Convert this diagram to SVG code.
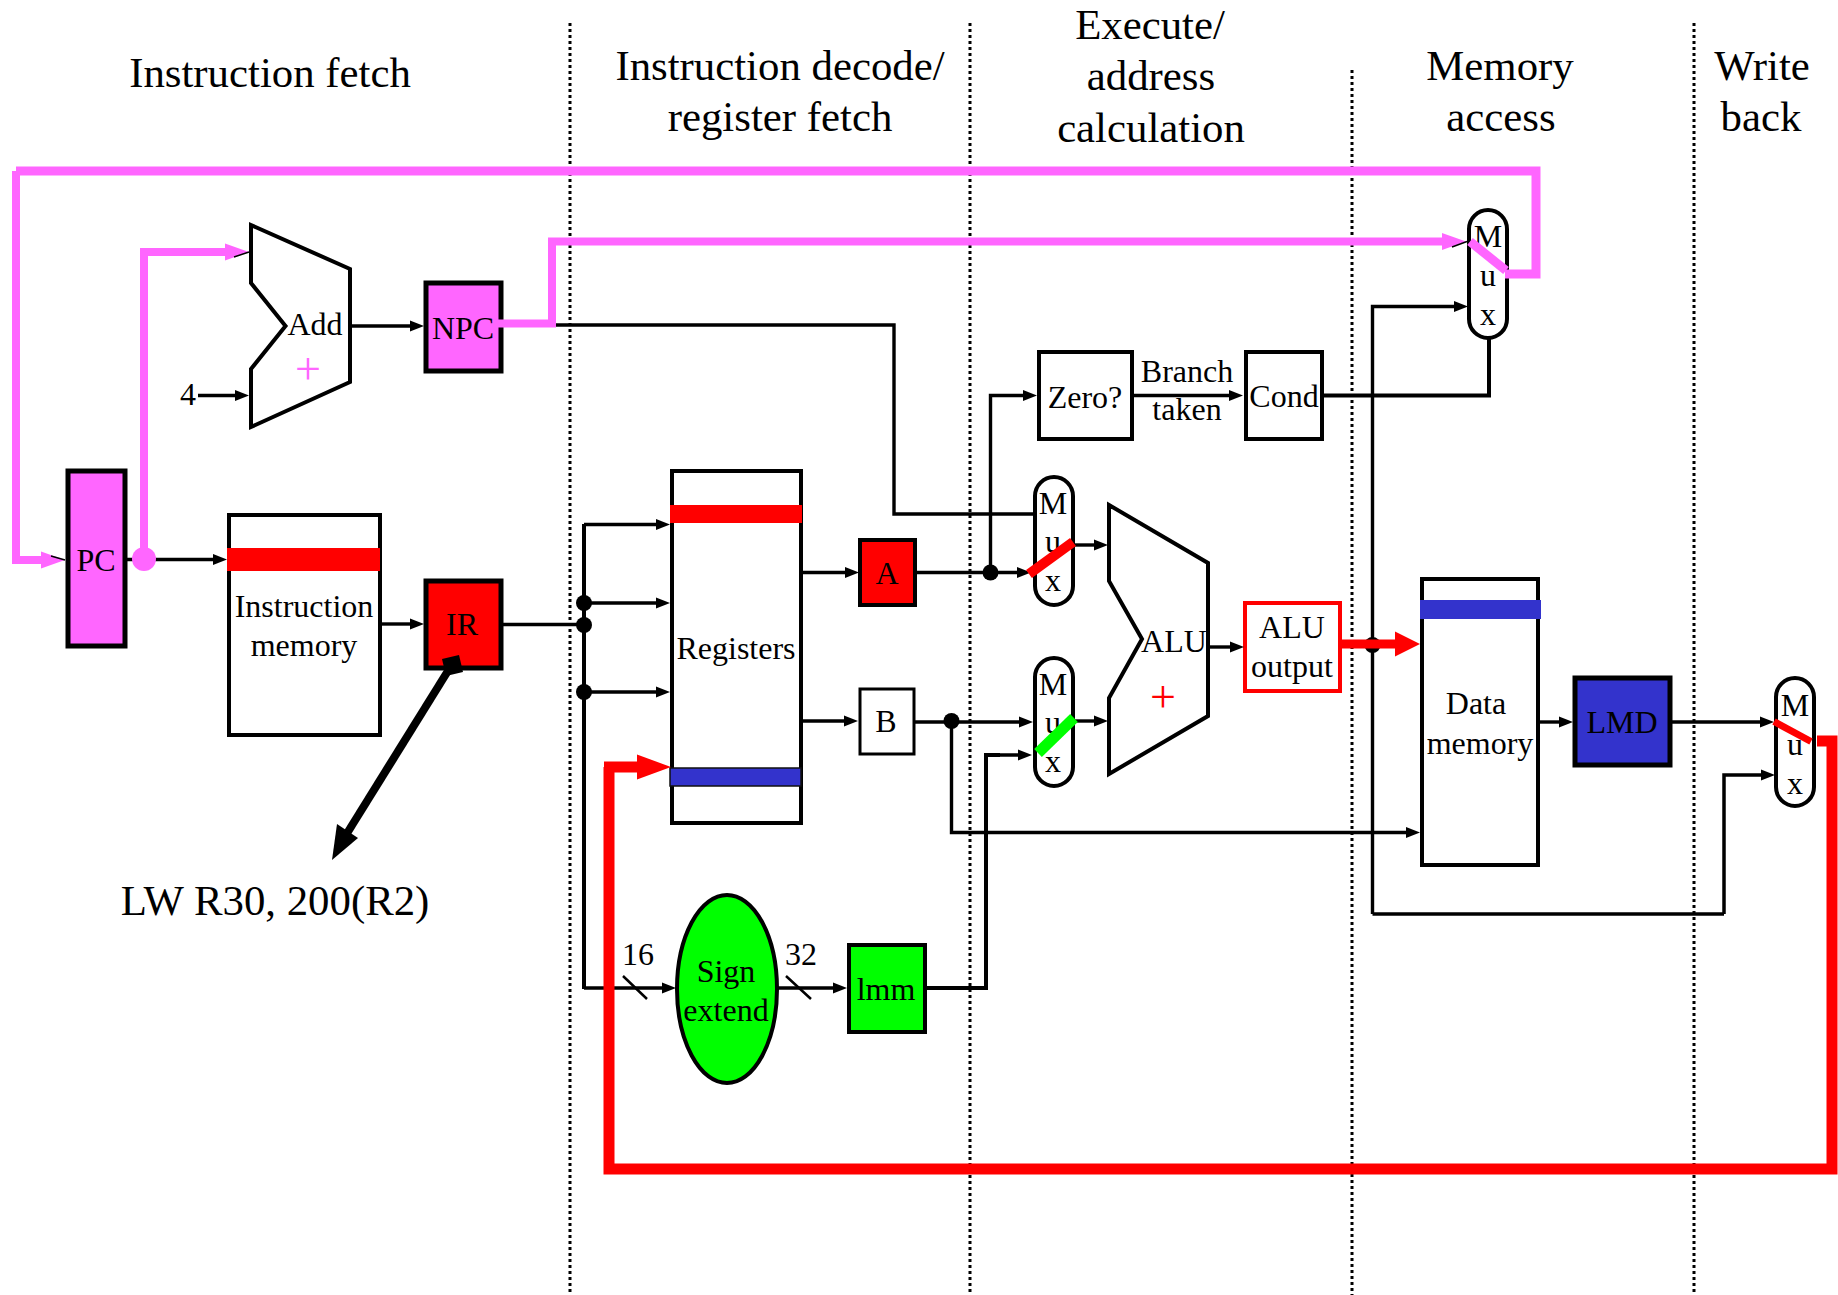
<svg xmlns="http://www.w3.org/2000/svg" width="1838" height="1295" viewBox="0 0 1838 1295">
<style>
text{font-family:"Liberation Serif","Times New Roman",serif;fill:#000;text-anchor:middle}
.t{font-size:32px}
.h{font-size:42.8px}
.box{fill:#fff;stroke:#000;stroke-width:4}
.thick{stroke-width:5}
.m{fill:#ff66ff}
.r{fill:#ff0000}
.b{fill:#3333cc}
.g{fill:#00ff00}
.dot{fill:none;stroke:#000;stroke-width:3;stroke-dasharray:3 3}
.w{fill:none;stroke:#000;stroke-width:3.400;stroke-linejoin:miter}
.a{marker-end:url(#ah)}
.wt{fill:none;stroke:#000;stroke-width:4}
.mg{fill:none;stroke:#ff66ff;stroke-width:9}
.rd{fill:none;stroke:#ff0000;stroke-width:11}
.j{fill:#000}
</style>
<defs>
<marker id="ah" markerUnits="userSpaceOnUse" markerWidth="15" markerHeight="12" refX="1" refY="5.500" orient="auto" overflow="visible"><path d="M0 0L14 5.500L0 11Z" fill="#000"/></marker>
<marker id="am" markerUnits="userSpaceOnUse" markerWidth="24" markerHeight="18" refX="1" refY="8.500" orient="auto" overflow="visible"><path d="M0 0L24 8.500L0 17Z" fill="#ff66ff"/></marker>
<marker id="ar" markerUnits="userSpaceOnUse" markerWidth="36" markerHeight="26" refX="1" refY="12.500" orient="auto" overflow="visible"><path d="M0 0L34 12.500L0 25Z" fill="#ff0000"/></marker>
<marker id="ar2" markerUnits="userSpaceOnUse" markerWidth="26" markerHeight="26" refX="1" refY="12.500" orient="auto" overflow="visible"><path d="M0 0L25 12.500L0 25Z" fill="#ff0000"/></marker>
</defs>
<g id="stage-dividers">
<path class="dot" d="M570 23V1295M970 23V1295M1352 70V1295M1694 23V1295"/>
</g>
<g id="headings">
<text class="h" x="270" y="87">Instruction fetch</text>
<text class="h" x="780" y="80">Instruction decode/</text>
<text class="h" x="780" y="131">register fetch</text>
<text class="h" x="1150" y="39">Execute/</text>
<text class="h" x="1151" y="90">address</text>
<text class="h" x="1151" y="142">calculation</text>
<text class="h" x="1500" y="80">Memory</text>
<text class="h" x="1501" y="131">access</text>
<text class="h" x="1762" y="80">Write</text>
<text class="h" x="1761" y="131">back</text>
</g>
<g id="pc"><rect class="box thick m" x="68" y="471" width="57" height="175"/><text class="t" x="96" y="571">PC</text></g>
<g id="adder"><polygon class="box" points="251,225 350,269 350,382 251,427 251,369 285.500,326 251,283"/><text class="t" x="315" y="335">Add</text><text x="308" y="384" style="font-size:46px;fill:#ff66ff">+</text></g>
<g id="four"><text class="t" x="188" y="405">4</text></g>
<g id="npc"><rect class="box thick m" x="426" y="283" width="75" height="88"/><text class="t" x="463" y="339">NPC</text></g>
<g id="instruction-memory"><rect class="box" x="229" y="515" width="151" height="220"/><rect class="r" x="227" y="548" width="153" height="23"/><text class="t" x="304" y="617">Instruction</text><text class="t" x="304" y="656">memory</text></g>
<g id="ir"><rect class="box thick r" x="426" y="581" width="75" height="87"/><text class="t" x="462" y="635">IR</text></g>
<g id="registers"><rect class="box" x="672" y="471" width="129" height="352"/><rect class="r" x="670" y="505" width="132" height="18"/><rect class="b" x="670" y="768" width="131" height="18" style="stroke:#111;stroke-width:1.500"/><text class="t" x="736" y="659">Registers</text></g>
<g id="a"><rect class="box r" x="860" y="540" width="55" height="65"/><text class="t" x="887" y="584">A</text></g>
<g id="b"><rect class="box" x="860" y="689" width="54" height="65" style="stroke-width:3"/><text class="t" x="886" y="732">B</text></g>
<g id="sign-extend"><ellipse class="g" cx="727" cy="989" rx="50" ry="94" style="stroke:#000;stroke-width:4"/><text class="t" x="726" y="982">Sign</text><text class="t" x="726" y="1021">extend</text></g>
<g id="imm"><rect class="box g" x="849" y="945" width="76" height="87"/><text class="t" x="886" y="1000">lmm</text></g>
<g id="zero"><rect class="box" x="1039" y="352" width="93" height="87"/><text class="t" x="1085" y="408">Zero?</text></g>
<g id="branch-taken"><text class="t" x="1187" y="382">Branch</text><text class="t" x="1187" y="420">taken</text></g>
<g id="cond"><rect class="box" x="1246" y="352" width="76" height="87"/><text class="t" x="1284" y="407">Cond</text></g>
<g id="mux-a"><rect class="box" x="1035" y="477" width="38" height="128" rx="19"/><text class="t" x="1053" y="514">M</text><text class="t" x="1053" y="552">u</text><text class="t" x="1053" y="591">x</text></g>
<g id="mux-b"><rect class="box" x="1035" y="658" width="38" height="128" rx="19"/><text class="t" x="1053" y="695">M</text><text class="t" x="1053" y="733">u</text><text class="t" x="1053" y="772">x</text></g>
<g id="alu"><polygon class="box" points="1109,505 1208,563 1208,716 1109,774 1109,698 1142,639 1109,581"/><text class="t" x="1174" y="652">ALU</text><text x="1163" y="712" style="font-size:46px;fill:#ff0000">+</text></g>
<g id="alu-output"><rect class="box" x="1245" y="603" width="95" height="88" style="stroke:#ff0000"/><text class="t" x="1292" y="638">ALU</text><text class="t" x="1292" y="677">output</text></g>
<g id="mux-branch"><rect class="box" x="1469" y="210" width="38" height="128" rx="19"/><text class="t" x="1488" y="247">M</text><text class="t" x="1488" y="286">u</text><text class="t" x="1488" y="325">x</text></g>
<g id="data-memory"><rect class="box" x="1422" y="579" width="116" height="286"/><rect class="b" x="1420" y="600" width="121" height="19"/><text class="t" x="1476" y="714">Data</text><text class="t" x="1480" y="754">memory</text></g>
<g id="lmd"><rect class="box thick b" x="1575" y="678" width="95" height="87"/><text class="t" x="1622" y="733">LMD</text></g>
<g id="mux-wb"><rect class="box" x="1776" y="678" width="38" height="128" rx="19"/><text class="t" x="1795" y="716">M</text><text class="t" x="1795" y="755">u</text><text class="t" x="1795" y="794">x</text></g>
<g id="lw-label"><text class="h" x="275" y="915">LW R30, 200(R2)</text></g>
<g id="connectors">
<path class="w a" d="M126 559.500H214"/>
<path class="w a" d="M198 395.500H236"/>
<path class="w a" d="M351 326H411"/>
<path class="w a" d="M380 624H411"/>
<path class="w" d="M501 624.500H584"/>
<path class="w" d="M555 325H894V514H1034"/>
<path class="wt" d="M584 524V989"/>
<path class="w a" d="M584 524.500H657"/>
<path class="w a" d="M584 603H657"/>
<path class="w a" d="M584 692H657"/>
<path class="w a" d="M584 988H663"/>
<path class="w" d="M623 976L647 999M786 976L811 999" style="stroke-width:2.500"/>
<path class="w a" d="M777 988H834"/>
<text class="t" x="638" y="965">16</text>
<text class="t" x="801" y="965">32</text>
<path class="wt" d="M925 988H986V755H1000"/>
<path class="w a" d="M986 755H1019"/>
<path class="w a" d="M801 572.500H846"/>
<path class="w a" d="M801 721H845"/>
<path class="w a" d="M915 572.500H1018"/>
<path class="w a" d="M990.500 572V395.500H1024"/>
<path class="w a" d="M914 722H1020"/>
<path class="w a" d="M951.500 721V832.500H1407"/>
<path class="w a" d="M1073 545H1095"/>
<path class="w a" d="M1073 721H1095"/>
<path class="w a" d="M1208 647H1231"/>
<path class="w a" d="M1132 395.500H1230"/>
<path class="wt" d="M1322 395.500H1489V339"/>
<path class="w a" d="M1372.500 914V306.500H1455"/>
<path class="w" d="M1372.500 914H1724"/>
<path class="w a" d="M1724 914V775H1762" style="stroke-width:3.500"/>
<path class="w a" d="M1539 722H1560"/>
<path class="w a" d="M1670 722H1761"/>
<circle class="j" cx="584" cy="603" r="8"/>
<circle class="j" cx="584" cy="625" r="8"/>
<circle class="j" cx="584" cy="692" r="8"/>
<circle class="j" cx="990.500" cy="572.500" r="8"/>
<circle class="j" cx="951.500" cy="721" r="8"/>
<circle class="j" cx="1372.500" cy="645" r="8"/>
<circle cx="144" cy="559" r="12" fill="#ff66ff"/>
<path class="mg" style="stroke-width:8;marker-end:url(#am)" d="M16 171V560H42"/>
<path class="mg" d="M16 171H1536V274H1505"/>
<path class="mg" style="stroke-width:8;marker-end:url(#am)" d="M144 559V252H226"/>
<path class="mg" style="stroke-width:8;marker-end:url(#am)" d="M497 323.500H552V241.500H1443"/>
<path class="w" d="M51 556L65 560M234 257L249 252M1452 247L1467 241.500" style="stroke-width:1.500"/>
<line x1="1470" y1="241.500" x2="1506" y2="270.500" stroke="#ff66ff" stroke-width="9"/>
<line x1="1029" y1="574" x2="1073" y2="542" stroke="#ff0000" stroke-width="10"/>
<line x1="1038" y1="753" x2="1074" y2="718" stroke="#00ff00" stroke-width="11"/>
<line x1="1774" y1="721.500" x2="1811" y2="741.500" stroke="#ff0000" stroke-width="7"/>
<path class="rd" style="stroke-width:9;marker-end:url(#ar2)" d="M1341 644H1396"/>
<path class="rd" d="M1817 741H1832V1169H609V767"/>
<path class="rd" style="marker-end:url(#ar)" d="M604 767H638"/>
<path d="M451 666L341 843" fill="none" stroke="#000" stroke-width="8"/>
<polygon fill="#000" points="332,860 337,824 358,838"/>
<polygon fill="#000" points="442,659 459,655 463,672 446,676"/>
</g>
</svg>
